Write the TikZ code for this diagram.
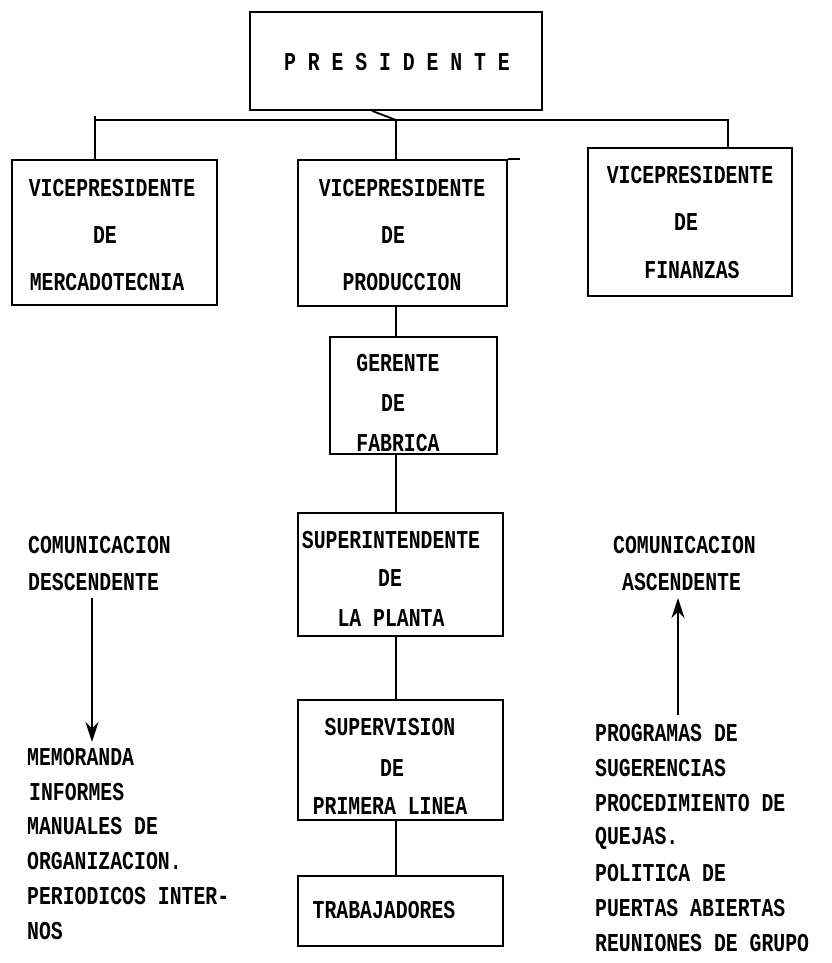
\documentclass[tikz,border=0pt]{standalone}
\usepackage{fontspec}
\setmonofont{Liberation Mono}
\usetikzlibrary{arrows.meta}
\newcommand{\tw}[1]{\scalebox{1}[1.3]{\ttfamily\bfseries #1}}
\begin{document}
\begin{tikzpicture}[x=1pt,y=-1pt,
  box/.style={draw, line width=1.8pt, inner sep=0pt},
  lbl/.style={font=\fontsize{19.8}{24}\selectfont, inner sep=0pt, anchor=center},
  lst/.style={font=\fontsize{19.8}{24}\selectfont, inner sep=0pt, anchor=west},
  link/.style={line width=1.8pt},
  arr/.style={line width=1.8pt, -{Stealth[length=20pt,width=13pt]}}]
\useasboundingbox (0,0) rectangle (831,963);
% boxes
\node[box, minimum width=292pt, minimum height=98pt]  (pres) at (396,61) {};
\node[box, minimum width=205pt, minimum height=145pt] (mer)  at (114.5,232.5) {};
\node[box, minimum width=209pt, minimum height=146pt] (pro)  at (402.5,233) {};
\node[box, minimum width=204pt, minimum height=148pt] (fin)  at (690,222) {};
\node[box, minimum width=167pt, minimum height=117pt] (ger)  at (413.5,395.5) {};
\node[box, minimum width=205pt, minimum height=123pt] (sup)  at (400.5,574.5) {};
\node[box, minimum width=205pt, minimum height=120pt] (pri)  at (400.5,760) {};
\node[box, minimum width=205pt, minimum height=70pt]  (tra)  at (400.5,911) {};
% junctions
\coordinate (j)  at (396,120);
\coordinate (hl) at (95,120);
\coordinate (hr) at (728,120);
% connectors
\draw[link] ([xshift=-24pt]pres.south) -- (j);
\draw[link] (mer.north -| hl) -- ([yshift=4pt]hl);
\draw[link] (hl) -- (hr) -- (fin.north -| hr);
\draw[link] (j) -- (pro.north -| j);
\draw[link] (pro.north east) -- ++(12,0);
\draw[link] (pro.south -| j) -- (ger.north -| j);
\draw[link] (ger.south -| j) -- (sup.north -| j);
\draw[link] (sup.south -| j) -- (pri.north -| j);
\draw[link] (pri.south -| j) -- (tra.north -| j);
% arrows
\coordinate (d1) at (92,598);
\coordinate (d2) at (92,742);
\coordinate (u1) at (678,715);
\coordinate (u2) at (678,598);
\draw[arr] (d1) -- (d2);
\draw[arr] (u1) -- (u2);
% box texts
\node[lbl] (tp) at (397,62) {\tw{P R E S I D E N T E}};
\node[lbl] (m1) at (112,188) {\tw{VICEPRESIDENTE}};
\node[lbl] (m2) at (105,235) {\tw{DE}};
\node[lbl] (m3) at (107,282) {\tw{MERCADOTECNIA}};
\node[lbl] (p1) at (402,188) {\tw{VICEPRESIDENTE}};
\node[lbl] (p2) at (393,235) {\tw{DE}};
\node[lbl] (p3) at (402,282) {\tw{PRODUCCION}};
\node[lbl] (f1) at (690,175) {\tw{VICEPRESIDENTE}};
\node[lbl] (f2) at (686,222) {\tw{DE}};
\node[lbl] (f3) at (692,270) {\tw{FINANZAS}};
\node[lbl] (g1) at (398,363) {\tw{GERENTE}};
\node[lbl] (g2) at (393,403) {\tw{DE}};
\node[lbl] (g3) at (398,443) {\tw{FABRICA}};
\node[lbl] (s1) at (391,540) {\tw{SUPERINTENDENTE}};
\node[lbl] (s2) at (390,578) {\tw{DE}};
\node[lbl] (s3) at (391,618) {\tw{LA PLANTA}};
\node[lbl] (r1) at (390,727) {\tw{SUPERVISION}};
\node[lbl] (r2) at (392,768) {\tw{DE}};
\node[lbl] (r3) at (390,806) {\tw{PRIMERA LINEA}};
\node[lbl] (w1) at (384,910) {\tw{TRABAJADORES}};
% left texts
\node[lst] (lc1) at (28,545) {\tw{COMUNICACION}};
\node[lst] (lc2) at (28,582) {\tw{DESCENDENTE}};
\node[lst] (l1) at (27,757) {\tw{MEMORANDA}};
\node[lst] (l2) at (29,792) {\tw{INFORMES}};
\node[lst] (l3) at (27,826) {\tw{MANUALES DE}};
\node[lst] (l4) at (27,861) {\tw{ORGANIZACION.}};
\node[lst] (l5) at (27,896) {\tw{PERIODICOS INTER-}};
\node[lst] (l6) at (27,931) {\tw{NOS}};
% right texts
\node[lst] (rc1) at (613,545) {\tw{COMUNICACION}};
\node[lst] (rc2) at (622,582) {\tw{ASCENDENTE}};
\node[lst] (q1) at (595,733) {\tw{PROGRAMAS DE}};
\node[lst] (q2) at (595,768) {\tw{SUGERENCIAS}};
\node[lst] (q3) at (595,803) {\tw{PROCEDIMIENTO DE}};
\node[lst] (q4) at (595,838) {\tw{QUEJAS.}};
\node[lst] (q5) at (595,873) {\tw{POLITICA DE}};
\node[lst] (q6) at (595,908) {\tw{PUERTAS ABIERTAS}};
\node[lst] (q7) at (595,943) {\tw{REUNIONES DE GRUPO}};
\end{tikzpicture}
\end{document}
